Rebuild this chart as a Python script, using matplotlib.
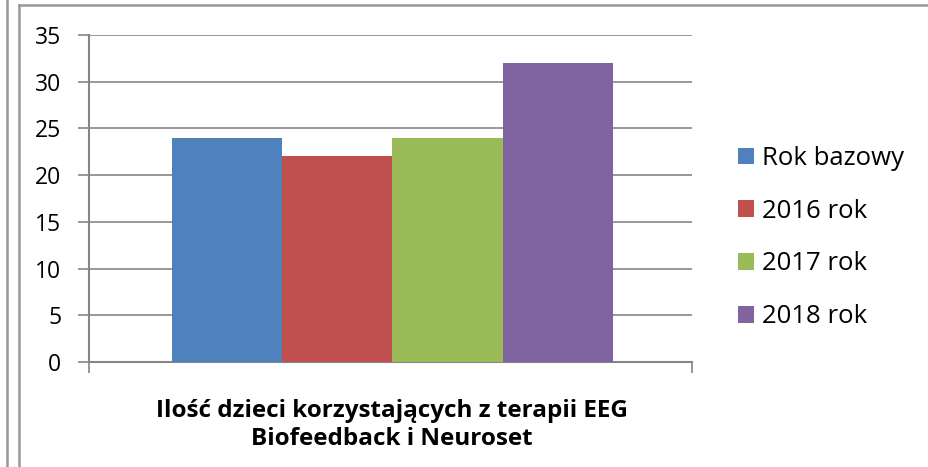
import matplotlib.pyplot as plt
from matplotlib.patches import Patch
from matplotlib.lines import Line2D

# dane do wykresu
serie = ['Rok bazowy', '2016 rok', '2017 rok', '2018 rok']
wartosci = [24, 22, 24, 32]
kolory = ['#4f81bd', '#c0504d', '#9bbb59', '#8064a2']
tytul = 'Ilość dzieci korzystających z terapii EEG\nBiofeedback i Neuroset'
y_ticki = [0, 5, 10, 15, 20, 25, 30, 35]

plt.rcParams['font.family'] = ['Open Sans', 'DejaVu Sans']

W, H = 929, 467
fig = plt.figure(figsize=(W / 100, H / 100), dpi=100)

# obszar wykresu w pikselach
left, right, top, bottom = 89, 692, 35, 362
ax = fig.add_axes([left / W, 1 - bottom / H, (right - left) / W, (bottom - top) / H])

szer = 0.183
n = len(serie)
for i, (s, v, k) in enumerate(zip(serie, wartosci, kolory)):
    x = (i - (n - 1) / 2) * szer + 0.003
    ax.bar(x, v, width=szer, color=k, label=s, zorder=3)

ax.set_xlim(-0.5, 0.5)
ax.set_ylim(0, 35)
ax.set_yticks(y_ticki)
ax.set_xticks([-0.5, 0.5])
ax.set_xticklabels([])
ax.yaxis.grid(True, color='#868686', linewidth=1.2, zorder=0)
for sp in ['top', 'right']:
    ax.spines[sp].set_visible(False)
for sp in ['left', 'bottom']:
    ax.spines[sp].set_color('#868686')
    ax.spines[sp].set_linewidth(1.5)
ax.tick_params(axis='y', length=8, width=1.2, color='#868686', labelsize=16.5, pad=12)
ax.tick_params(axis='x', length=8, width=1.2, color='#868686')

fig.text(392 / W, 1 - 425 / H, tytul, ha='center', va='center', fontsize=17.5,
         fontweight='bold', linespacing=1.25)

uchwyty = [Patch(facecolor=k, edgecolor='none') for k in kolory]
fig.legend(uchwyty, serie, loc='upper left', bbox_to_anchor=(738 / W, 1 - 146 / H),
           frameon=False, fontsize=18.5, handlelength=0.62, handleheight=0.62,
           handletextpad=0.3, labelspacing=1.08, borderpad=0, borderaxespad=0)

# ramki wokół wykresu
fig.add_artist(Line2D([19 / W, 19 / W], [0, 1 - 5 / H], color='#999999', linewidth=1.8))
fig.add_artist(Line2D([19 / W, 1], [1 - 5 / H, 1 - 5 / H], color='#999999', linewidth=1.8))
fig.add_artist(Line2D([7 / W, 7 / W], [0, 1], color='#999999', linewidth=1.8))

fig.savefig('out.png', dpi=100)
